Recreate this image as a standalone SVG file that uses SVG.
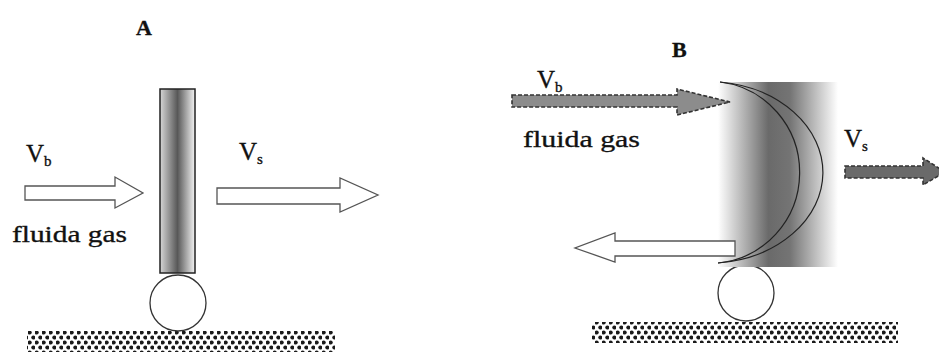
<svg xmlns="http://www.w3.org/2000/svg" width="939" height="352" viewBox="0 0 939 352">
  <style>
    .lbl { font-family: "Liberation Serif", "Times New Roman", serif; fill: #111; stroke: #111; stroke-width: 0.35; }
    .title { font-weight: bold; font-size: 22px; }
    .v { font-size: 25px; }
    .sub { font-size: 15px; }
    .txt { font-size: 24px; }
    .hollow { fill: #fff; stroke: #555; stroke-width: 1.3; stroke-linejoin: miter; }
    .dashed { stroke: #333; stroke-width: 1.6; stroke-dasharray: 4 2; }
    .wheel { fill: #fff; stroke: #333; stroke-width: 1.3; }
    .arc { fill: none; stroke: #222; stroke-width: 1.2; }
  </style>
  <defs>
    <linearGradient id="barGrad" x1="0" y1="0" x2="1" y2="0">
      <stop offset="0" stop-color="#d6d6d6"/>
      <stop offset="0.5" stop-color="#585858"/>
      <stop offset="1" stop-color="#f4f4f4"/>
    </linearGradient>
    <linearGradient id="sailGrad" x1="0" y1="0" x2="1" y2="0">
      <stop offset="0" stop-color="#ffffff"/>
      <stop offset="0.42" stop-color="#6a6a6a"/>
      <stop offset="0.6" stop-color="#747474"/>
      <stop offset="1" stop-color="#ffffff"/>
    </linearGradient>
    <pattern id="gravel" width="7" height="10" patternUnits="userSpaceOnUse">
      <circle cx="1.75" cy="2.5" r="2" fill="#1a1a1a"/>
      <circle cx="5.25" cy="7.5" r="2" fill="#1a1a1a"/>
    </pattern>
  </defs>

  <!-- Panel A: flat plate on a wheel -->
  <g id="labelA">
    <text class="lbl title" x="136" y="35">A</text>
  </g>
  <g id="groundA">
    <rect x="27" y="331" width="308" height="21" fill="url(#gravel)"/>
  </g>
  <g id="wheelA">
    <circle class="wheel" cx="178" cy="303" r="28"/>
  </g>
  <g id="plateA">
    <rect x="160" y="89" width="35" height="184" fill="url(#barGrad)" stroke="#222" stroke-width="1.5"/>
  </g>
  <g id="textA">
    <text class="lbl v" x="26" y="162">V<tspan class="sub" dy="4">b</tspan></text>
    <text class="lbl txt" x="12" y="242" textLength="115" lengthAdjust="spacingAndGlyphs">fluida gas</text>
    <text class="lbl v" x="239" y="160">V<tspan class="sub" dy="4">s</tspan></text>
  </g>

  <!-- Panel B: curved sail on a wheel -->
  <g id="labelB">
    <text class="lbl title" x="672" y="57">B</text>
  </g>
  <g id="groundB">
    <rect x="592" y="322" width="306" height="21" fill="url(#gravel)"/>
  </g>
  <g id="wheelB">
    <circle class="wheel" cx="746" cy="293" r="28"/>
  </g>
  <g id="sailB">
    <rect x="718" y="82" width="120" height="185" fill="url(#sailGrad)"/>
    <path class="arc" d="M720,82 A116,91 0 0 1 718,263"/>
    <path class="arc" d="M720,82 A90,91 0 0 1 718,263"/>
  </g>
  <g id="textB">
    <text class="lbl v" x="537" y="88">V<tspan class="sub" dy="4">b</tspan></text>
    <text class="lbl txt" x="523" y="147" textLength="117" lengthAdjust="spacingAndGlyphs">fluida gas</text>
    <text class="lbl v" x="844" y="147">V<tspan class="sub" dy="4">s</tspan></text>
  </g>

  <!-- Flow arrows -->
  <g id="connectors">
    <path class="hollow" d="M25,186 L115,186 L115,177 L143,193 L115,208 L115,200 L25,200 Z"/>
    <path class="hollow" d="M217,188 L340,188 L340,178 L378,195 L340,212 L340,204 L217,204 Z"/>
    <path class="dashed" fill="#8c8c8c" d="M512,95 L677,95 L677,89 L730,102 L677,115 L677,107 L512,107 Z"/>
    <path class="dashed" fill="#6a6a6a" d="M845,166 L923,166 L923,158 L945,172 L923,185 L923,178 L845,178 Z"/>
    <path class="hollow" d="M735,241 L615,241 L615,233 L575,248 L615,262 L615,256 L735,256 Z"/>
  </g>
</svg>
